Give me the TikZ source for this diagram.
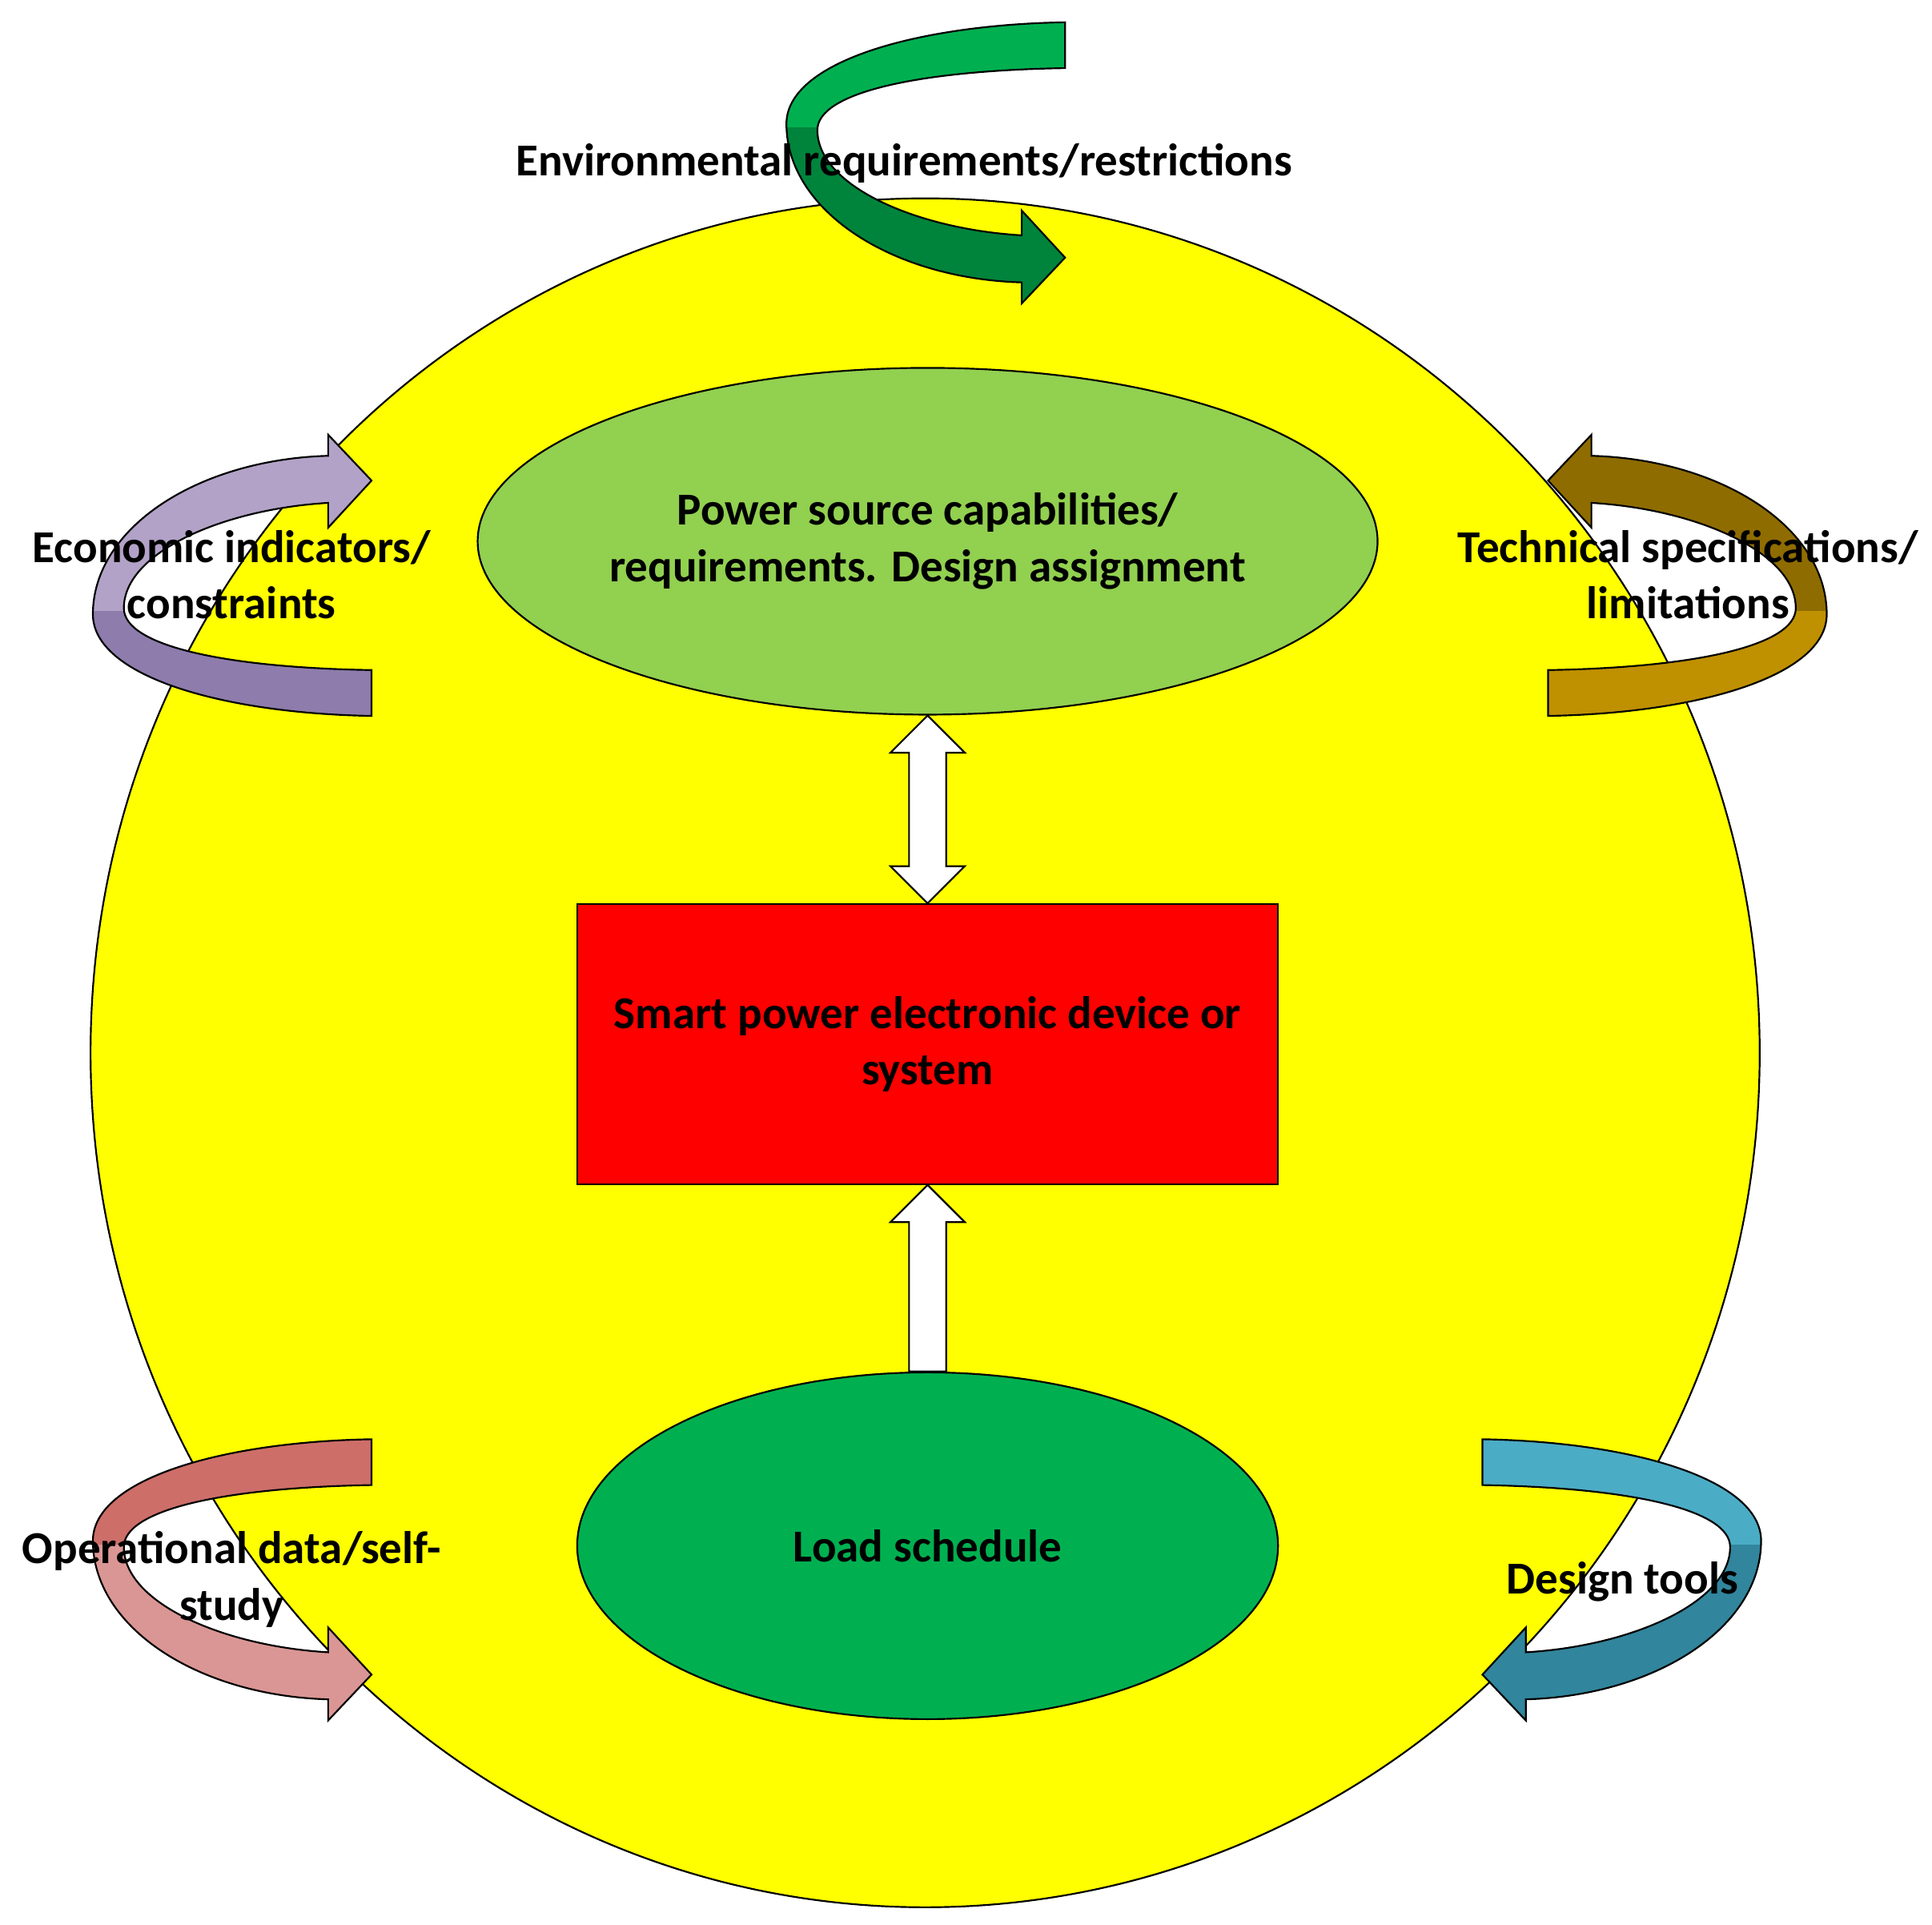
\documentclass[tikz,border=0pt]{standalone}
\usepackage{fontspec}
\setmainfont{Carlito}
\usetikzlibrary{calc,shapes.geometric}
\definecolor{ringyellow}{RGB}{255,255,0}
\definecolor{srcgreen}{RGB}{146,208,80}
\definecolor{loadgreen}{RGB}{0,176,80}
\definecolor{envlight}{RGB}{0,176,80}
\definecolor{envdark}{RGB}{0,132,60}
\definecolor{ecolight}{RGB}{178,162,199}
\definecolor{ecodark}{RGB}{142,124,172}
\definecolor{techlight}{RGB}{191,144,0}
\definecolor{techdark}{RGB}{143,108,0}
\definecolor{oplight}{RGB}{218,150,148}
\definecolor{opdark}{RGB}{205,110,105}
\definecolor{toollight}{RGB}{75,172,198}
\definecolor{tooldark}{RGB}{49,133,156}
\tikzset{
  lbl/.style={font=\fontsize{21}{26}\selectfont\bfseries, align=center},
  blob/.style={ellipse, draw, thick, minimum width=11.32cm, minimum height=5.6cm, inner sep=0pt, lbl},
  fatarrow/.style={draw, thick, fill=white}
}
% curled ribbon arrow: transform, tail colour, head colour
\newcommand{\curlarrow}[3]{%
  \begin{scope}[#1]
    \def\band{(860,18) -- (860,55) .. controls (740,57) and (660,75) .. (660,105)
      .. controls (660,150) and (740,185) .. (825,190) -- (825,170) -- (860,208)
      -- (825,245) -- (825,228) .. controls (720,225) and (635,170) .. (635,100)
      .. controls (635,50) and (740,20) .. (860,18) -- cycle}
    \fill[#3] \band;
    \begin{scope}
      \clip \band;
      \fill[#2] (600,0) rectangle (900,103);
    \end{scope}
    \draw[thick] \band;
  \end{scope}}
\begin{document}
\begin{tikzpicture}[x=0.02cm, y=-0.02cm]
\useasboundingbox (0,0) rectangle (1560,1554);
\node[ellipse, draw, thick, fill=ringyellow, minimum width=26.96cm, minimum height=27.6cm] (ring) at (747,850) {};
\node[blob, fill=srcgreen] (src) at (749,437) {Power source capabilities/\\requirements. Design assignment};
\node[draw, thick, fill=red, minimum width=11.32cm, minimum height=4.52cm, lbl] (dev) at (749,843) {Smart power electronic device or\\system};
\node[blob, fill=loadgreen] (load) at (749,1248) {Load schedule};

% block arrows
\draw[fatarrow] (src.south) -- ++(30,30) -- ++(-15,0) -- ($(dev.north)+(15,-30)$) -- ++(15,0)
  -- (dev.north) -- ++(-30,-30) -- ++(15,0) -- ($(src.south)+(-15,30)$) -- ++(-15,0) -- cycle;
\draw[fatarrow] (dev.south) -- ++(30,30) -- ++(-15,0) -- ($(load.north)+(15,0)$)
  -- ($(load.north)+(-15,0)$) -- ($(dev.south)+(-15,30)$) -- ++(-15,0) -- cycle;

% ribbon arrows
\curlarrow{}{envlight}{envdark}
\curlarrow{shift={(-560,596)}, yscale=-1}{ecodark}{ecolight}
\curlarrow{shift={(2110,596)}, xscale=-1, yscale=-1}{techlight}{techdark}
\curlarrow{shift={(-560,1144)}}{opdark}{oplight}
\curlarrow{shift={(2057,1144)}, xscale=-1}{toollight}{tooldark}

% labels
\node[lbl] (env) at (730,132) {Environmental requirements/restrictions};
\node[lbl] (eco) at (187,464) {Economic indicators/\\constraints};
\node[lbl] (tech) at (1363,464) {Technical specifications/\\limitations};
\node[lbl] (oper) at (187,1275) {Operational data/self-\\study};
\node[lbl] (tools) at (1310,1277) {Design tools};
\end{tikzpicture}
\end{document}
